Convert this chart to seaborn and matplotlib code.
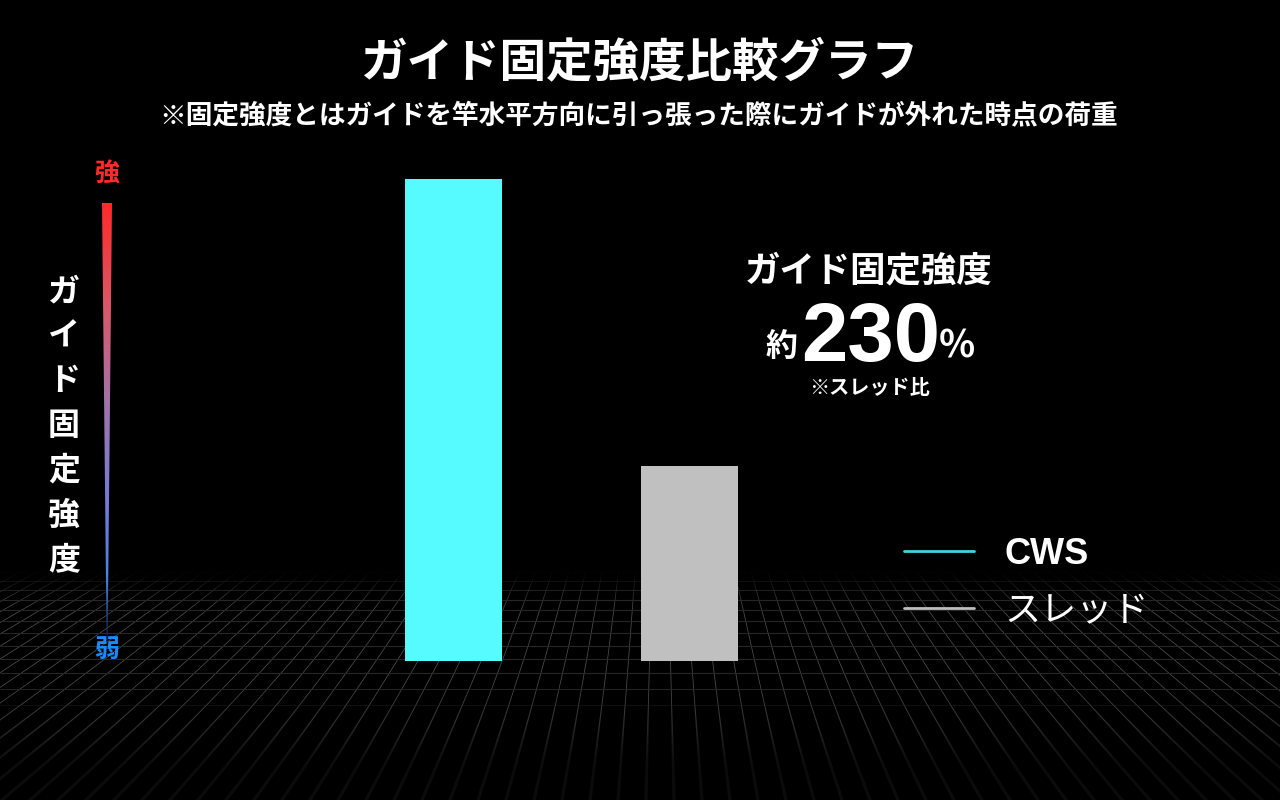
import numpy as np
import pandas as pd
import seaborn as sns
import matplotlib
matplotlib.use("Agg")
import matplotlib.pyplot as plt
from matplotlib.collections import LineCollection
from matplotlib.patches import Polygon
from matplotlib.lines import Line2D
from matplotlib.colors import LinearSegmentedColormap

# ---------------- data ----------------
products = ["CWS", "スレッド"]
strength = [2.47, 1.00]          # relative guide fixing strength (スレッド = 1)
bar_colors = ["#55FBFF", "#C0C0C0"]
legend_colors = ["#3ED3E0", "#BDBDBD"]

title = "ガイド固定強度比較グラフ"
subtitle = "※固定強度とはガイドを竿水平方向に引っ張った際にガイドが外れた時点の荷重"
axis_label = "ガイド固定強度"
strong_label = "強"
weak_label = "弱"
note_title = "ガイド固定強度"
note_prefix = "約"
note_value = "230"
note_unit = "%"
note_foot = "※スレッド比"

# ---------------- setup ----------------
sns.set_theme(style="dark")
JP = ["Noto Sans CJK JP", "DejaVu Sans"]
plt.rcParams["font.family"] = JP

W, H = 1280, 800
fig = plt.figure(figsize=(12.8, 8.0), dpi=100, facecolor="black")

# background overlay in pixel coordinates
bg = fig.add_axes([0, 0, 1, 1])
bg.set_xlim(0, W)
bg.set_ylim(H, 0)
bg.set_facecolor("black")
bg.axis("off")

# ---------- perspective floor grid ----------
vx, vy = 660.0, 240.0
ratio = 0.05


def smooth(a, b, t):
    s = np.clip((t - a) / (b - a), 0, 1)
    return s * s * (3 - 2 * s)


ys = np.arange(562, 802, 2.0)
segs, cols, lws = [], [], []
for k in range(-50, 51):
    X = (k + 0.5) * ratio
    for y0 in ys:
        y1 = y0 + 2
        x0 = vx + X * (y0 - vy)
        x1 = vx + X * (y1 - vy)
        if max(x0, x1) < -5 or min(x0, x1) > W + 5:
            continue
        ym = (y0 + y1) / 2
        a = smooth(566, 615, ym) * (1 - 0.85 * smooth(675, 770, ym))
        if a <= 0.005:
            continue
        segs.append([(x0, y0), (x1, y1)])
        cols.append((0.31, 0.31, 0.31, a))
        lws.append(0.55 + 1.8 * smooth(690, 800, ym))
bg.add_collection(LineCollection(segs, colors=cols, linewidths=lws, zorder=1))

u0, du = 285.7e-5, 7.85e-5
hsegs, hcols = [], []
for j in range(-3, 15):
    u = u0 - j * du
    y = vy + 1.0 / u
    a = smooth(566, 600, y) * (1 - smooth(680, 725, y))
    if a <= 0.01:
        continue
    hsegs.append([(0, y), (W, y)])
    hcols.append((0.15, 0.15, 0.15, a))
bg.add_collection(LineCollection(hsegs, colors=hcols, linewidths=0.8, zorder=1))

# ---------- gradient wedge (strength scale) ----------
cmap = LinearSegmentedColormap.from_list(
    "scale",
    [(0.0, "#ff2a2a"), (0.25, "#d85a6c"), (0.45, "#a472a8"),
     (0.65, "#7a7ad2"), (0.85, "#4f82ea"), (1.0, "#10244a")])
grad = np.linspace(0, 1, 300).reshape(-1, 1)
im = bg.imshow(grad, cmap=cmap, aspect="auto",
               extent=[100, 115, 640, 203], zorder=3, interpolation="bilinear")
wedge = Polygon([(102, 203), (112, 203), (107.6, 640), (106.6, 640)],
                closed=True, transform=bg.transData, facecolor="none", edgecolor="none")
bg.add_patch(wedge)
im.set_clip_path(wedge)
bg.set_xlim(0, W)
bg.set_ylim(H, 0)

bg.text(107, 174, strong_label, color="#ff2a2a", fontsize=18, fontweight="bold",
        ha="center", va="center", zorder=4)
bg.text(107, 650, weak_label, color="#1a8cff", fontsize=18, fontweight="bold",
        ha="center", va="center", zorder=4)

for i, ch in enumerate(axis_label):
    bg.text(64, 292 + i * 44.7, ch, color="white", fontsize=23, fontweight="bold",
            ha="center", va="center", zorder=4)

# ---------- titles ----------
bg.text(639, 62, title, color="white", fontsize=33.5, fontweight="bold",
        ha="center", va="center", zorder=4)
bg.text(639, 116, subtitle, color="white", fontsize=19.2, fontweight="bold",
        ha="center", va="center", zorder=4)

# ---------- annotation ----------
bg.text(869, 271, note_title, color="white", fontsize=25.5, fontweight="bold",
        ha="center", va="center", zorder=4)
bg.text(798, 347, note_prefix, color="white", fontsize=23, fontweight="bold",
        ha="right", va="center", zorder=4)
bg.text(801, 361, note_value, color="white", fontsize=60, fontweight="bold",
        ha="left", va="baseline", zorder=4, family=["Liberation Sans", "DejaVu Sans"])
bg.text(939, 346, note_unit, color="white", fontsize=27, fontweight="bold",
        ha="left", va="center", zorder=4)
bg.text(869, 388, note_foot, color="white", fontsize=14.5, fontweight="bold",
        ha="center", va="center", zorder=4)

# ---------- bars ----------
px_left, px_right = 300, 843
unit = 236.0
x0_px = 453.5
xlim = (-(x0_px - px_left) / unit, (px_right - x0_px) / unit)
bottom_px, top_px = 661, 179
ax = fig.add_axes([px_left / W, 1 - bottom_px / H, (px_right - px_left) / W,
                   (bottom_px - top_px) / H])
ax.patch.set_alpha(0)
df = pd.DataFrame({"product": products, "strength": strength})
sns.barplot(data=df, x="product", y="strength", hue="product", palette=bar_colors,
            width=97 / unit, saturation=1, legend=False, ax=ax, zorder=5)
for p in ax.patches:
    p.set_edgecolor("none")
    p.set_linewidth(0)
ax.set_xlim(*xlim)
ax.set_ylim(0, max(strength))
ax.axis("off")

# ---------- legend ----------
handles = [Line2D([0], [0], color=c, lw=2) for c in legend_colors]
leg = fig.legend(handles, products, loc="upper left",
                 bbox_to_anchor=(871 / W, 1 - 504 / H), frameon=False,
                 handlelength=1.95, handletextpad=0.85,
                 labelspacing=0.62, labelcolor="white",
                 prop={"family": ["Liberation Sans", "Noto Sans CJK JP"], "size": 26})
leg.get_texts()[0].set_fontweight("bold")

fig.savefig("out.png", dpi=100, facecolor="black")
